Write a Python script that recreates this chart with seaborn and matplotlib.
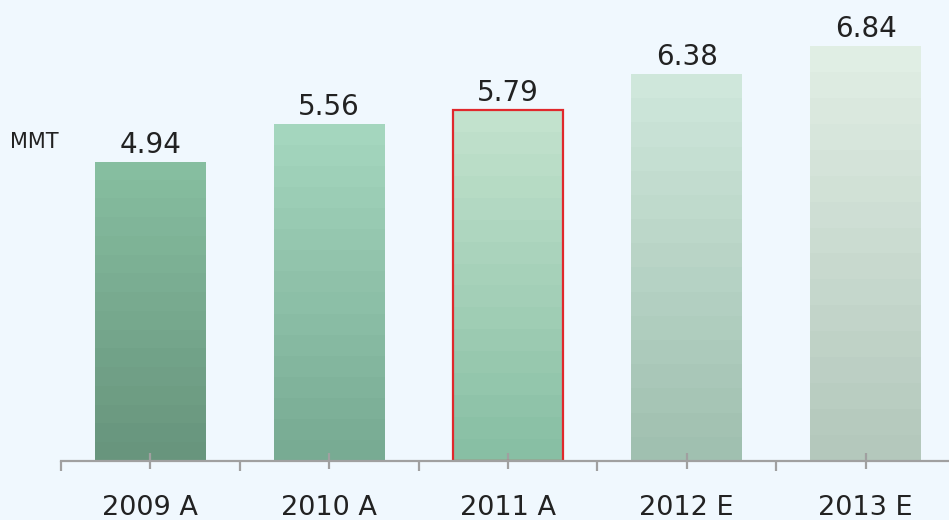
import numpy as np
import pandas as pd
import matplotlib
matplotlib.use("Agg")
import matplotlib.pyplot as plt
from matplotlib.colors import to_rgb
import seaborn as sns

# Chart data
years = ["2009 A", "2010 A", "2011 A", "2012 E", "2013 E"]
volumes = [4.94, 5.56, 5.79, 6.38, 6.84]
unit_label = "MMT"

# Gradient fills (top colour, bottom colour) per bar
top_colors = ["#86bea0", "#a4d6be", "#c2e2cd", "#cfe7db", "#e0eee4"]
bottom_colors = ["#68957d", "#78ab93", "#88bfa4", "#a0c0b0", "#b4c8bc"]
highlight = "2011 A"

bg = "#f0f8fe"
axis_gray = "#a0a0a0"
text_color = "#222222"

sns.set_theme(style="white")
plt.rcParams["font.family"] = ["DejaVu Sans"]

df = pd.DataFrame({"year": years, "volume": volumes})

fig = plt.figure(figsize=(9.49, 5.20), dpi=100, facecolor=bg)
ax = fig.add_axes([61 / 949, 1 - 461 / 520, 894 / 949, 461 / 520])
ax.set_facecolor(bg)

sns.barplot(data=df, x="year", y="volume", hue="year", palette=bottom_colors,
            width=0.62, legend=False, ax=ax, saturation=1, linewidth=0)

ax.set_xlim(-0.5, len(years) - 0.5)
ax.set_ylim(0, 461 / 60.6)

# Banded vertical gradient inside every bar
n_bands = 16
for bar, c_top, c_bot, name in zip(ax.patches, top_colors, bottom_colors, years):
    x0, y0 = bar.get_x(), bar.get_y()
    w, h = bar.get_width(), bar.get_height()
    t = np.linspace(0, 1, n_bands)[:, None]
    rgb = (1 - t) * np.array(to_rgb(c_top)) + t * np.array(to_rgb(c_bot))
    img = ax.imshow(rgb[:, None, :], extent=[x0, x0 + w, y0, y0 + h],
                    aspect="auto", interpolation="nearest", zorder=2)
    img.set_clip_path(bar)
    bar.set_facecolor("none")
    if name == highlight:
        bar.set_edgecolor("#e0282c")
        bar.set_linewidth(1.6)
        bar.set_zorder(3)
    # value label above the bar
    ax.annotate(f"{bar.get_height():.2f}", (x0 + w / 2, y0 + h),
                xytext=(0, 6.5), textcoords="offset points",
                ha="center", va="baseline", fontsize=20, color=text_color,
                zorder=4)

ax.set_aspect("auto")
ax.set_axisbelow(False)

# Axes styling
for side in ["left", "right", "top"]:
    ax.spines[side].set_visible(False)
ax.spines["bottom"].set_color(axis_gray)
ax.spines["bottom"].set_linewidth(1.6)
ax.spines["bottom"].set_zorder(5)

ax.set_yticks([])
ax.set_xlabel("")
ax.set_ylabel("")
ax.set_xticks(range(len(years)))
ax.set_xticklabels(years)
ax.set_xticks(np.arange(-0.5, len(years)), minor=True)
ax.tick_params(axis="x", which="major", direction="inout", length=11, width=1.6,
               color=axis_gray, labelsize=19.5, labelcolor=text_color, pad=19,
               bottom=True)
ax.tick_params(axis="x", which="minor", direction="out", length=7.5, width=1.6,
               color=axis_gray, bottom=True)

fig.text(10 / 949, 1 - 148 / 520, unit_label, fontsize=15, color=text_color,
         ha="left", va="baseline")

fig.savefig("out.png", dpi=100, facecolor=bg)
